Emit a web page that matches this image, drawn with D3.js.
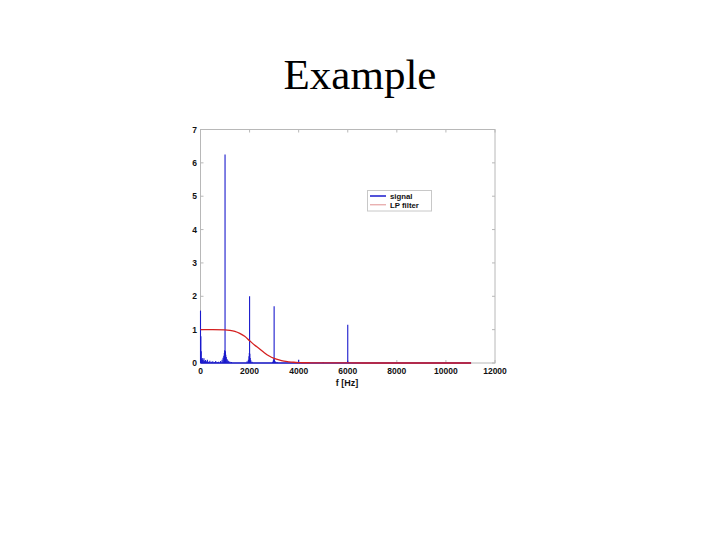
<!DOCTYPE html>
<html><head><meta charset="utf-8">
<script src="https://cdn.jsdelivr.net/npm/d3@7"></script>
<style>body{margin:0;background:#fff}</style>
</head><body>
<svg id="c" width="720" height="540"></svg>
<script>
const title = "Example";
const xLabel = "f [Hz]";
const xTicks = [0, 2000, 4000, 6000, 8000, 10000, 12000];
const yTicks = [0, 1, 2, 3, 4, 5, 6, 7];
const legendLabels = ["signal", "LP filter"];

// signal spectrum (stems): frequencies [Hz] and magnitudes
const sigF = [0, 15, 30, 50, 70, 90, 110, 140, 170, 200, 240, 280, 330, 380, 440, 500, 560, 620, 680, 740,
  820, 880, 920, 950, 970, 985, 1000, 1015, 1030, 1050, 1080, 1110, 1150, 1200, 1260,
  1900, 1950, 1975, 1990, 2000, 2010, 2025, 2050, 2100,
  2940, 2970, 2990, 3000, 3010, 3030, 3060, 3120,
  4000, 5000, 5990, 6000, 6010];
const sigA = [1.57, 0.8, 0.35, 0.12, 0.15, 0.1, 0.08, 0.14, 0.06, 0.09, 0.05, 0.1, 0.04, 0.07, 0.04, 0.05, 0.03, 0.06, 0.03, 0.04,
  0.06, 0.1, 0.16, 0.22, 0.3, 0.38, 6.25, 0.35, 0.25, 0.18, 0.12, 0.08, 0.06, 0.04, 0.03,
  0.05, 0.1, 0.2, 0.3, 2.0, 0.28, 0.15, 0.08, 0.04,
  0.04, 0.08, 0.12, 1.7, 0.1, 0.06, 0.04, 0.03,
  0.1, 0.03, 0.05, 1.15, 0.04];

// LP filter response
const fltF = [0, 500, 1000, 1200, 1400, 1600, 1800, 2000, 2200, 2400, 2600, 2800, 3000, 3200, 3400, 3600, 3800, 4000, 4500, 5000, 6000, 8000, 11025];
const fltA = [1, 1, 0.995, 0.98, 0.95, 0.89, 0.8, 0.67, 0.54, 0.43, 0.31, 0.21, 0.14, 0.09, 0.055, 0.035, 0.022, 0.014, 0.006, 0.003, 0.001, 0, 0];

const svg = d3.select("#c");
const L = 200.5, R = 495, T = 129.5, B = 363;
const x = d3.scaleLinear().domain([0, 12000]).range([L, R]);
const y = d3.scaleLinear().domain([0, 7]).range([B, T]);
const sans = "Liberation Sans, Arial, sans-serif";

svg.append("text").attr("x", 360).attr("y", 89).attr("text-anchor", "middle")
  .attr("font-family", "Liberation Serif, Times New Roman, serif").attr("font-size", 43)
  .attr("fill", "#000").text(title);

const frame = "#b8b8b8";
svg.append("rect").attr("x", L).attr("y", T).attr("width", R - L).attr("height", B - T)
  .attr("fill", "#fff").attr("stroke", frame).attr("stroke-width", 1);

// ticks (inside, MATLAB style)
const tl = 3;
const g = svg.append("g");
xTicks.forEach(t => {
  const px = x(t);
  g.append("line").attr("x1", px).attr("x2", px).attr("y1", B).attr("y2", B - tl).attr("stroke", frame);
  g.append("line").attr("x1", px).attr("x2", px).attr("y1", T).attr("y2", T + tl).attr("stroke", frame);
  g.append("text").attr("x", px).attr("y", 374).attr("text-anchor", "middle")
    .attr("font-family", sans).attr("font-size", 8.5).attr("font-weight", "bold")
    .attr("fill", "#111").text(t);
});
yTicks.forEach(t => {
  const py = y(t);
  g.append("line").attr("x1", L).attr("x2", L + tl).attr("y1", py).attr("y2", py).attr("stroke", frame);
  g.append("line").attr("x1", R).attr("x2", R - tl).attr("y1", py).attr("y2", py).attr("stroke", frame);
  g.append("text").attr("x", 197).attr("y", py + 3).attr("text-anchor", "end")
    .attr("font-family", sans).attr("font-size", 8.5).attr("font-weight", "bold")
    .attr("fill", "#111").text(t);
});
svg.append("text").attr("x", 347).attr("y", 386).attr("text-anchor", "middle")
  .attr("font-family", sans).attr("font-size", 9).attr("font-weight", "bold")
  .attr("fill", "#111").text(xLabel);

const blue = "#1a1acc";
// baseline of signal
svg.append("line").attr("x1", x(0)).attr("x2", x(11025)).attr("y1", y(0)).attr("y2", y(0))
  .attr("stroke", blue).attr("stroke-width", 1.5);
// stems
svg.append("g").selectAll("line").data(sigF.map((f, i) => [f, sigA[i]])).join("line")
  .attr("x1", d => x(d[0])).attr("x2", d => x(d[0]))
  .attr("y1", y(0)).attr("y2", d => y(d[1]))
  .attr("stroke", blue).attr("stroke-width", 1.1);

// filter
const line = d3.line().x(d => x(d[0])).y(d => y(d[1])).curve(d3.curveMonotoneX);
svg.append("path").datum(fltF.map((f, i) => [f, fltA[i]])).attr("d", line)
  .attr("fill", "none").attr("stroke", "#d42020").attr("stroke-width", 1.3);

// legend
const lg = svg.append("g");
lg.append("rect").attr("x", 367.5).attr("y", 190.5).attr("width", 64).attr("height", 20.5)
  .attr("fill", "#fff").attr("stroke", "#c8c8c8");
const lcols = [blue, "#e09090"];
const lws = [1.5, 1];
legendLabels.forEach((s, i) => {
  const yy = 196 + i * 8.8;
  lg.append("line").attr("x1", 370).attr("x2", 386).attr("y1", yy).attr("y2", yy)
    .attr("stroke", lcols[i]).attr("stroke-width", lws[i]);
  lg.append("text").attr("x", 390).attr("y", yy + 2.7)
    .attr("font-family", sans).attr("font-size", 7.8).attr("font-weight", "bold")
    .attr("fill", "#111").text(s);
});
</script>
</body></html>
